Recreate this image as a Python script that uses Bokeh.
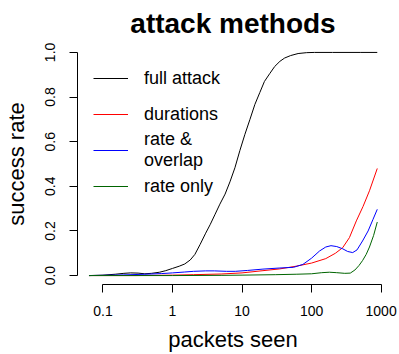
from bokeh.plotting import figure
from bokeh.models import Range1d, FixedTicker, CustomJSTickFormatter, Legend, LegendItem
from bokeh.embed import file_html
from bokeh.resources import INLINE

# ---- data ----
full_x = [0.063, 0.1, 0.15, 0.2, 0.25, 0.32, 0.4, 0.5, 0.65, 0.8, 1.0, 1.25, 1.5, 1.8, 2.1,
          2.5, 3.0, 3.5, 4.1, 4.8, 5.7, 6.7, 7.9, 9.3, 11, 13, 15.3, 18, 21, 25, 29.5,
          35, 41, 50, 64, 85, 110, 200, 500, 880]
full_y = [0.0, 0.002, 0.006, 0.010, 0.012, 0.011, 0.008, 0.010, 0.015, 0.022, 0.032, 0.042,
          0.052, 0.07, 0.095, 0.14, 0.19, 0.23, 0.275, 0.32, 0.365, 0.42, 0.483, 0.56,
          0.633, 0.70, 0.767, 0.82, 0.87, 0.905, 0.937, 0.96, 0.975, 0.986, 0.995, 0.999,
          1.0, 1.0, 1.0, 1.0]

dur_x = [0.063, 0.3, 1, 2, 5, 10, 20, 35, 60, 100, 160, 220, 280, 350, 440, 550, 680, 880]
dur_y = [0.0, 0.0, 0.002, 0.004, 0.007, 0.012, 0.022, 0.03, 0.042, 0.056, 0.076, 0.1,
         0.125, 0.17, 0.245, 0.31, 0.38, 0.48]

ovl_x = [0.063, 0.1, 0.2, 0.4, 0.7, 1.0, 1.5, 2.0, 3.0, 4.0, 6.0, 8.0, 12, 20, 35, 55, 75,
         100, 130, 160, 190, 230, 280, 330, 390, 450, 540, 650, 760, 880]
ovl_y = [0.0, 0.001, 0.003, 0.006, 0.009, 0.012, 0.016, 0.019, 0.021, 0.021, 0.019, 0.019,
         0.023, 0.029, 0.034, 0.037, 0.05, 0.078, 0.11, 0.128, 0.134, 0.13, 0.12, 0.108,
         0.103, 0.115, 0.155, 0.2, 0.25, 0.297]

rate_x = [0.063, 1, 5, 10, 30, 60, 100, 140, 180, 230, 300, 360, 420, 480, 540, 610, 680, 780, 880]
rate_y = [0.0, 0.0, 0.001, 0.002, 0.004, 0.006, 0.008, 0.013, 0.015, 0.013, 0.010, 0.011,
          0.025, 0.045, 0.067, 0.095, 0.128, 0.18, 0.24]

x_ticks = [0.1, 1, 10, 100, 1000]
y_ticks = [0.0, 0.2, 0.4, 0.6, 0.8, 1.0]

series_names = ["full attack", "durations", "rate &\noverlap", "rate only"]
series_colors = ["#000000", "#FF0000", "#0000FF", "#006400"]
x_title = "packets seen"
y_title = "success rate"

FONT = "Liberation Sans"
W, H = 399, 354
BL, BR, BT, BB = 77, 11, 42, 70

p = figure(width=W, height=H, x_axis_type="log",
           x_range=Range1d(10 ** -1.366, 10 ** 3.106), y_range=Range1d(-0.04, 1.04),
           output_backend="svg", toolbar_location=None,
           min_border_left=BL, min_border_right=BR, min_border_top=BT, min_border_bottom=BB)
p.outline_line_color = None
p.grid.visible = False
p.background_fill_color = "white"
p.border_fill_color = "white"

p.title.text = "attack methods"
p.title.align = "center"
p.title.text_font = FONT
p.title.text_font_size = "28px"
p.title.text_font_style = "bold"
p.title.text_color = "black"

xs = [full_x, dur_x, ovl_x, rate_x]
ys = [full_y, dur_y, ovl_y, rate_y]
renderers = []
for x, y, c in zip(xs, ys, series_colors):
    renderers.append(p.line(x, y, line_color=c, line_width=1))

# axes
for ax in (p.xaxis[0], p.yaxis[0]):
    ax.axis_line_color = "black"
    ax.major_tick_line_color = "black"
    ax.minor_tick_line_color = None
    ax.major_tick_out = 8
    ax.major_tick_in = 0
    ax.major_label_text_font = FONT
    ax.major_label_text_font_size = "14px"
    ax.major_label_text_color = "black"
    ax.axis_label_text_font = FONT
    ax.axis_label_text_font_size = "22px"
    ax.axis_label_text_font_style = "normal"
    ax.axis_label_text_color = "black"

p.xaxis.ticker = FixedTicker(ticks=x_ticks)
p.xaxis.formatter = CustomJSTickFormatter(code="return String(tick);")
p.xaxis.bounds = (x_ticks[0], x_ticks[-1])
p.xaxis.axis_label = x_title
p.xaxis.major_label_standoff = 13
p.xaxis.axis_label_standoff = 8

p.yaxis.ticker = FixedTicker(ticks=y_ticks)
p.yaxis.formatter = CustomJSTickFormatter(code="return tick.toFixed(1);")
p.yaxis.bounds = (y_ticks[0], y_ticks[-1])
p.yaxis.axis_label = y_title
p.yaxis.major_label_orientation = "vertical"
p.yaxis.major_label_standoff = 14
p.yaxis.axis_label_standoff = 14

# legend entries (one legend per entry to keep R-like even spacing)
centers = [78, 114, 150, 186]   # screen y of entry centres
heights = [28, 28, 44, 28]
frame_bottom = H - BB
for name, r, cy, h in zip(series_names, renderers, centers, heights):
    lg = Legend(items=[LegendItem(label=name, renderers=[r], index=0)],
                location=(16, frame_bottom - cy - h / 2),
                glyph_width=35, glyph_height=h, label_height=h,
                label_standoff=16, padding=0, margin=0, spacing=0,
                border_line_color=None, background_fill_alpha=0,
                label_text_font=FONT, label_text_font_size="18px",
                label_text_color="black")
    p.add_layout(lg)

open("out.html", "w").write(file_html(p, INLINE))
